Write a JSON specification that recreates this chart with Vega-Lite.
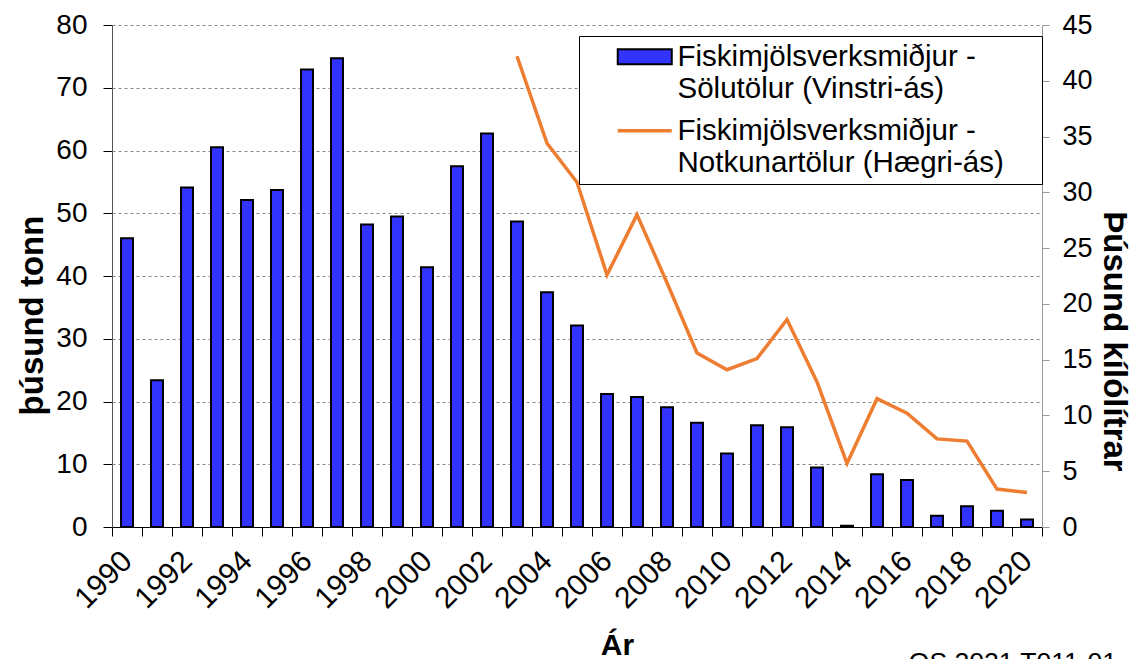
{
  "$schema": "https://vega.github.io/schema/vega-lite/v6.json",
  "width": 930,
  "height": 502,
  "autosize": "none",
  "padding": {"left": 112, "top": 25, "right": 87, "bottom": 132},
  "background": "white",
  "config": {"view": {"stroke": null}, "font": "Liberation Sans"},
  "title": {"text": "OS 2021 T011-01", "orient": "bottom", "anchor": "end", "frame": "group", "fontSize": 26.5, "fontWeight": "normal", "font": "Liberation Sans", "color": "black", "baseline": "top", "offset": -10, "dx": 75},
  "data": {"values": [
    {"year": "1990", "solu": 46.0, "notkun": null},
    {"year": "1991", "solu": 23.4, "notkun": null},
    {"year": "1992", "solu": 54.1, "notkun": null},
    {"year": "1993", "solu": 60.5, "notkun": null},
    {"year": "1994", "solu": 52.1, "notkun": null},
    {"year": "1995", "solu": 53.7, "notkun": null},
    {"year": "1996", "solu": 72.9, "notkun": null},
    {"year": "1997", "solu": 74.7, "notkun": null},
    {"year": "1998", "solu": 48.2, "notkun": null},
    {"year": "1999", "solu": 49.5, "notkun": null},
    {"year": "2000", "solu": 41.4, "notkun": null},
    {"year": "2001", "solu": 57.5, "notkun": null},
    {"year": "2002", "solu": 62.7, "notkun": null},
    {"year": "2003", "solu": 48.7, "notkun": 42.2},
    {"year": "2004", "solu": 37.4, "notkun": 34.4},
    {"year": "2005", "solu": 32.1, "notkun": 30.9},
    {"year": "2006", "solu": 21.2, "notkun": 22.6},
    {"year": "2007", "solu": 20.7, "notkun": 28.0},
    {"year": "2008", "solu": 19.1, "notkun": 21.9},
    {"year": "2009", "solu": 16.6, "notkun": 15.6},
    {"year": "2010", "solu": 11.7, "notkun": 14.1},
    {"year": "2011", "solu": 16.2, "notkun": 15.1},
    {"year": "2012", "solu": 15.9, "notkun": 18.6},
    {"year": "2013", "solu": 9.5, "notkun": 13.0},
    {"year": "2014", "solu": 0.2, "notkun": 5.7},
    {"year": "2015", "solu": 8.4, "notkun": 11.5},
    {"year": "2016", "solu": 7.5, "notkun": 10.2},
    {"year": "2017", "solu": 1.8, "notkun": 7.9},
    {"year": "2018", "solu": 3.3, "notkun": 7.7},
    {"year": "2019", "solu": 2.6, "notkun": 3.4},
    {"year": "2020", "solu": 1.2, "notkun": 3.1}
  ]},
  "encoding": {
    "x": {
      "field": "year", "type": "ordinal",
      "scale": {"paddingInner": 0, "paddingOuter": 0},
      "axis": {
        "title": "Ár", "titleFontSize": 30, "titleFontWeight": "bold", "titleColor": "black",
        "titleX": 505, "titleY": 127, "titleBaseline": "alphabetic",
        "labelAngle": -45, "labelAlign": "right", "labelBaseline": "middle",
        "labelFontSize": 30, "labelColor": "black", "labelPadding": 20,
        "labelExpr": "toNumber(datum.label) % 2 === 0 ? datum.label : ''",
        "tickBand": "extent", "tickSize": 9, "tickColor": "black", "domainColor": "black", "grid": false
      }
    }
  },
  "layer": [
    {
      "mark": {"type": "bar", "fill": "#3333ff", "stroke": "black", "strokeWidth": 2, "width": {"band": 0.4}},
      "encoding": {
        "y": {
          "field": "solu", "type": "quantitative",
          "scale": {"domain": [0, 80], "nice": false},
          "axis": {
            "title": "þúsund tonn", "titleFontSize": 33, "titleFontWeight": "bold", "titleColor": "black",
            "titleX": -70, "titleY": 290, "titleBaseline": "alphabetic", "titleAngle": -90,
            "values": [0, 10, 20, 30, 40, 50, 60, 70, 80],
            "labelFontSize": 28, "labelColor": "black", "labelPadding": 16,
            "tickSize": 9, "tickColor": "black", "domainColor": "#555555",
            "grid": true, "gridColor": "#888888", "gridDash": [3, 3], "gridWidth": 1
          }
        },
        "opacity": {
          "datum": "Fiskimjölsverksmiðjur -|Sölutölur (Vinstri-ás)",
          "scale": {
            "domain": ["Fiskimjölsverksmiðjur -|Sölutölur (Vinstri-ás)", "Fiskimjölsverksmiðjur -|Notkunartölur (Hægri-ás)"],
            "range": [1, 1]
          },
          "legend": {
            "orient": "none", "legendX": 467, "legendY": 11,
            "title": "\u00a0", "titleOrient": "right", "titlePadding": 32, "titleFontSize": 10,
            "padding": 6, "symbolOffset": 45, "labelOffset": 18,
            "labelFontSize": 29.5, "labelFont": "Liberation Sans", "labelColor": "black", "labelLimit": 0,
            "labelExpr": "split(datum.label, '|')",
            "strokeColor": "black", "fillColor": "white", "symbolSize": 784, "rowPadding": 11,
            "encoding": {
              "symbols": {
                "shape": {"value": {"expr": "datum.value === 'Fiskimjölsverksmiðjur -|Sölutölur (Vinstri-ás)' ? 'M-1.93,-0.536H1.93V0.536H-1.93Z' : 'M-1.93,0H1.93'"}},
                "fill": {"value": {"expr": "datum.value === 'Fiskimjölsverksmiðjur -|Sölutölur (Vinstri-ás)' ? '#3333ff' : 'transparent'"}},
                "stroke": {"value": {"expr": "datum.value === 'Fiskimjölsverksmiðjur -|Sölutölur (Vinstri-ás)' ? 'black' : '#ed7d31'"}},
                "strokeWidth": {"value": {"expr": "datum.value === 'Fiskimjölsverksmiðjur -|Sölutölur (Vinstri-ás)' ? 2 : 3.5"}}
              },
              "labels": {"lineHeight": {"value": 32}}
            }
          }
        }
      }
    },
    {
      "mark": {"type": "line", "color": "#ed7d31", "strokeWidth": 3.5},
      "encoding": {
        "y": {
          "field": "notkun", "type": "quantitative",
          "scale": {"domain": [0, 45], "nice": false},
          "axis": {
            "orient": "right",
            "title": "Þúsund kílólítrar", "titleFontSize": 33, "titleFontWeight": "bold", "titleColor": "black",
            "titleX": 61, "titleY": 316, "titleBaseline": "alphabetic", "titleAngle": 90,
            "values": [0, 5, 10, 15, 20, 25, 30, 35, 40, 45],
            "labelFontSize": 27, "labelColor": "black", "labelPadding": 13,
            "tickSize": 7, "tickColor": "#999999", "domainColor": "#999999", "grid": false
          }
        },
        "opacity": {"datum": "Fiskimjölsverksmiðjur -|Notkunartölur (Hægri-ás)"}
      }
    }
  ],
  "resolve": {"scale": {"y": "independent"}}
}
